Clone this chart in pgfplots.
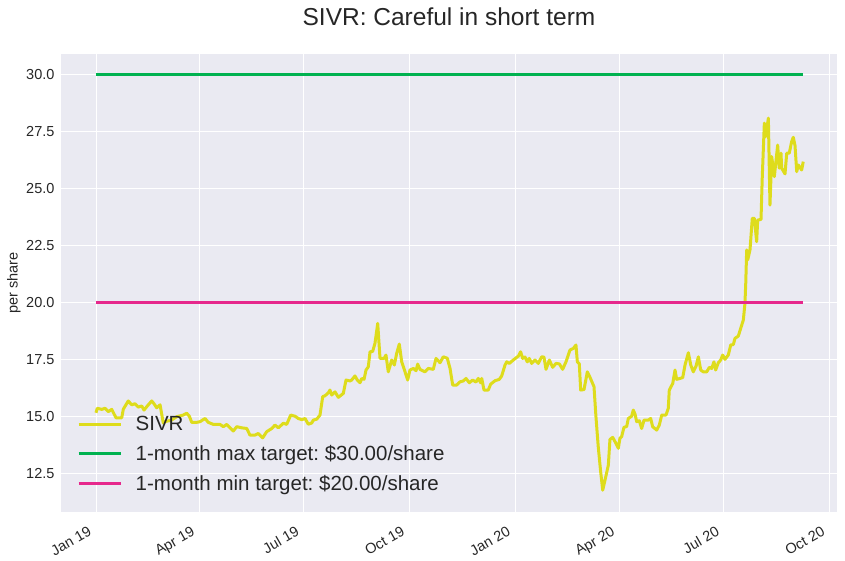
\documentclass[border=0pt]{standalone}
\usepackage{pgfplots}
\pgfplotsset{compat=1.18}
\usepackage{fontspec}
\setmainfont{Liberation Sans}
\frenchspacing
\definecolor{bgc}{HTML}{EAEAF2}
\definecolor{txtc}{HTML}{262626}
\definecolor{sivr}{RGB}{222,220,28}
\definecolor{gmax}{RGB}{0,178,80}
\definecolor{pmin}{RGB}{230,40,140}
\begin{document}
\begin{tikzpicture}
\begin{axis}[
  name=ax,
  scale only axis,
  width=776pt, height=458pt,
  xmin=-30.5, xmax=645.5,
  ymin=10.79, ymax=30.92,
  axis background/.style={fill=bgc},
  axis line style={draw=none},
  grid=major,
  major grid style={white, line width=1pt},
  major tick length=0pt,
  xtick={0,90,181,273,365,456,547,639},
  xticklabels={Jan 19,Apr 19,Jul 19,Oct 19,Jan 20,Apr 20,Jul 20,Oct 20},
  ytick={12.5,15,17.5,20,22.5,25,27.5,30},
  yticklabels={12.5,15.0,17.5,20.0,22.5,25.0,27.5,30.0},
  /pgf/number format/assume math mode=true,
  tick label style={font=\fontsize{14.5}{17}\selectfont, text=txtc},
  yticklabel style={anchor=east, xshift=-3pt},
  xticklabel style={rotate=30, anchor=north east, yshift=-4pt, xshift=-11pt},
  ylabel={per share},
  ylabel style={at={(axis description cs:-0.0606,0.5)}, anchor=center, font=\fontsize{14.5}{17}\selectfont, text=txtc},
  title={SIVR: Careful in short term},
  title style={at={(axis description cs:0.5,1)}, anchor=base, yshift=22pt, font=\fontsize{24.5}{30}\selectfont, text=txtc},
  legend style={at={(axis description cs:0,0)}, anchor=south west, draw=none, fill=none,
    font=\fontsize{20.5}{25}\selectfont, text=txtc, xshift=13pt, yshift=16pt, row sep=9pt,
    nodes={inner sep=2pt}},
  legend cell align=left,
  legend image code/.code={\draw[#1] (0pt,0pt) -- (42pt,0pt); \path[draw=none, fill=none] (0pt,0pt) -- (55pt,0pt);},
  every axis plot/.append style={line width=3pt, line join=round},
]
\addplot[sivr] table {
x y
0 15.15
1.1 15.35
5.0 15.3
7.8 15.35
10.7 15.2
13.7 15.3
15.7 15.1
17.4 14.93
22.4 14.93
23.8 15.31
28.1 15.67
31.1 15.5
34.0 15.55
36.8 15.4
39.8 15.45
41.8 15.27
44.7 15.45
48.5 15.67
50.5 15.55
52.9 15.37
55.8 15.5
58.6 14.7
60.1 14.76
65.9 14.83
70.3 14.98
76.0 15.05
79.0 15.13
81.3 15.0
83.4 14.73
87.7 14.73
90.6 14.76
95.0 14.9
97.8 14.73
102.2 14.64
108.0 14.64
110.9 14.54
113.9 14.64
116.7 14.49
119.6 14.35
122.6 14.54
126.9 14.49
131.3 14.46
134.1 14.17
138.5 14.17
141.4 14.24
145.2 14.05
148.7 14.32
153.1 14.46
155.9 14.61
158.8 14.49
163.2 14.69
166.1 14.64
169.6 15.05
173.4 15.0
176.2 14.9
179.2 14.85
182.1 14.9
184.9 14.65
187.9 14.7
189.3 14.83
192.3 14.87
195.1 15.05
197.5 15.86
199.5 15.9
202.4 16.03
203.8 16.15
205.3 15.93
208.2 16.07
211.1 15.83
215.4 16.0
217.8 16.59
221.3 16.55
222.7 16.59
225.6 16.77
227.6 16.59
230.0 16.47
231.5 16.66
233.5 16.62
235.2 17.03
237.2 17.17
238.7 17.83
241.0 17.85
243.0 18.2
245.4 19.08
247.4 17.54
250.9 17.54
252.6 17.69
254.6 16.95
257.6 17.47
259.9 17.25
261.9 17.76
264.2 18.17
266.3 17.39
269.2 16.95
271.5 16.59
273.5 17.03
276.4 17.1
278.8 17.0
280.2 17.29
282.2 17.06
286.6 16.95
289.5 17.1
293.8 17.06
296.2 17.54
299.7 17.35
302.5 17.61
306.0 17.55
308.4 17.1
310.7 16.37
314.2 16.37
317.1 16.51
320.0 16.55
322.3 16.66
325.2 16.47
328.1 16.59
331.0 16.5
333.0 16.66
335.1 16.47
336.0 16.66
338.0 16.15
341.7 16.15
343.8 16.41
347.6 16.56
351.3 16.62
353.4 16.77
356.3 17.25
357.8 17.39
360.0 17.32
363.5 17.47
367.9 17.64
369.9 17.83
371.7 17.54
373.7 17.6
375.7 17.39
377.4 17.54
379.5 17.32
382.4 17.47
385.3 17.32
388.2 17.61
390.2 17.6
392.0 17.06
394.9 17.47
397.8 17.15
400.7 17.32
403.6 17.3
406.5 17.06
409.4 17.39
412.9 17.91
415.8 17.98
418.1 18.13
419.3 17.39
421.0 17.3
422.2 16.15
425.1 16.17
428.0 16.95
430.3 16.71
433.8 16.3
435.5 14.98
437.5 13.66
439.6 12.56
441.4 11.75
443.4 12.19
446.3 12.85
447.7 13.98
450.1 14.07
453.0 13.8
455.0 13.59
456.4 14.03
457.9 14.1
459.9 14.51
462.3 14.55
463.7 14.9
466.6 15.0
468.0 15.27
469.5 15.1
471.0 14.76
473.3 14.8
475.3 14.46
477.4 14.83
481.1 14.83
483.2 14.9
484.9 14.54
488.4 14.39
490.7 14.61
492.8 15.05
496.5 15.05
498.5 15.34
499.4 16.15
502.4 16.44
504.4 17.03
505.8 16.62
508.7 16.66
511.1 16.7
513.1 17.25
516.0 17.79
518.1 17.25
520.3 16.95
522.7 17.2
524.7 17.61
526.8 17.03
529.0 16.95
532.0 16.95
534.3 17.15
536.3 17.1
538.3 17.39
539.8 17.03
542.1 17.35
544.2 17.47
545.9 17.69
547.9 17.5
550.8 17.69
552.9 18.13
555.2 18.15
556.6 18.42
559.5 18.52
561.6 18.86
563.9 19.23
565.3 19.96
566.0 20.84
566.8 22.31
567.7 21.87
569.7 22.31
571.7 23.7
573.5 23.7
575.5 22.67
576.4 23.62
579.3 23.65
580.4 25.53
582.2 27.88
583.4 27.29
585.7 28.1
587.1 24.28
588.6 26.41
590.9 25.53
593.8 26.92
595.2 25.9
596.7 26.56
597.3 25.9
600.2 25.65
601.7 26.56
603.9 26.56
606.0 27.07
607.4 27.26
608.9 26.9
610.4 25.75
611.8 26.04
614.7 25.82
616.1 26.19
};
\addlegendentry{SIVR}
\addplot[gmax] coordinates {(0,30) (616.1,30)};
\addlegendentry{1-month max target: \$30.00/share}
\addplot[pmin] coordinates {(0,20) (616.1,20)};
\addlegendentry{1-month min target: \$20.00/share}
\end{axis}
\pgfresetboundingbox
\useasboundingbox (ax.south west) ++(-61pt,-49pt) rectangle ++(845pt,561pt);
\end{tikzpicture}
\end{document}
